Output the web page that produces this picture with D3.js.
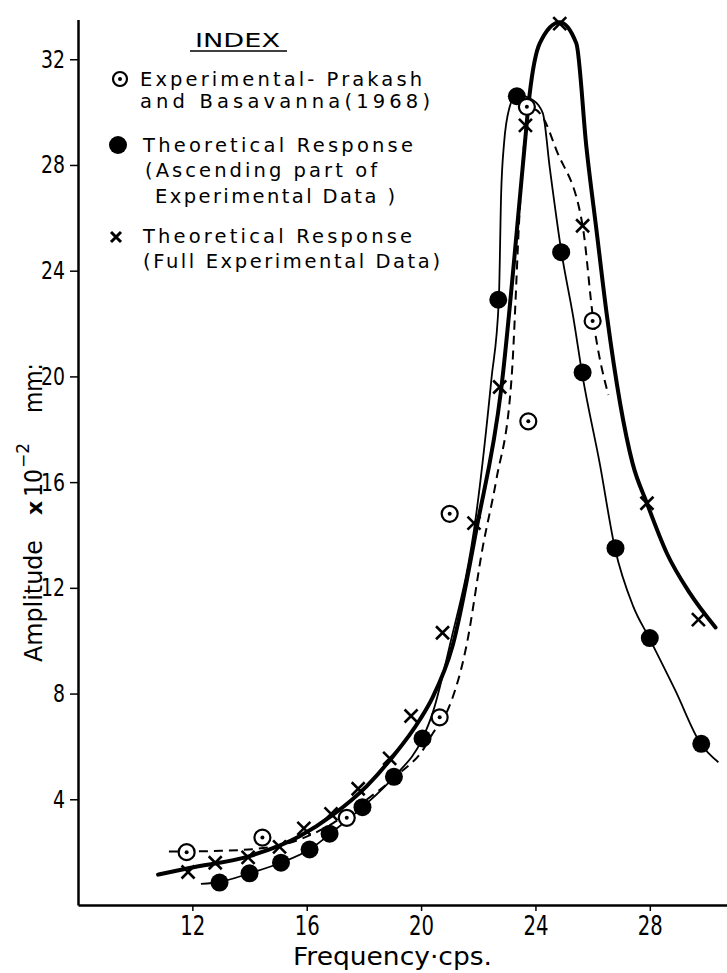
<!DOCTYPE html>
<html><head><meta charset="utf-8">
<script src="https://cdn.jsdelivr.net/npm/d3@7"></script>
<style>body{margin:0;background:#fff}svg{display:block}</style>
</head><body>
<svg id="c" width="727" height="973"></svg>
<script>
// ---- tick labels ----
const xTicks = [12, 16, 20, 24, 28];
const yTicks = [4, 8, 12, 16, 20, 24, 28, 32];

// ---- markers ----
// Experimental - Prakash and Basavanna (1968)  (circle with dot)
const expFreq = [11.8, 14.45, 17.4, 20.65, 21.0, 23.75, 23.7, 26.0];
const expAmp  = [2.0, 2.55, 3.3, 7.1, 14.8, 18.3, 30.2, 22.1];
// Theoretical response (ascending part of experimental data)  (filled dot)
const ascFreq = [12.95, 14.0, 15.1, 16.1, 16.8, 17.95, 19.05, 20.05, 22.7, 23.35, 24.9, 25.65, 26.8, 28.0, 29.8];
const ascAmp  = [0.85, 1.2, 1.6, 2.1, 2.7, 3.7, 4.85, 6.3, 22.9, 30.6, 24.7, 20.15, 13.5, 10.1, 6.1];
// Theoretical response (full experimental data)  (cross)
const fullFreq = [11.85, 12.8, 13.95, 15.05, 15.9, 16.85, 17.8, 18.9, 19.65, 20.75, 21.85, 22.75, 23.65, 24.85, 25.65, 27.9, 29.7];
const fullAmp  = [1.25, 1.6, 1.8, 2.2, 2.9, 3.45, 4.4, 5.55, 7.15, 10.3, 14.45, 19.6, 29.5, 33.35, 25.7, 15.2, 10.8];

// ---- curves ----
// dashed: experimental
const expCurveFreq = [11.18, 13.0, 14.8, 16.91, 18.08, 19.24, 20.06, 20.41, 20.88, 21.58, 22.16, 22.63, 23.16, 23.47, 23.65, 23.85, 24.26, 24.73, 25.65, 26.02, 26.55];
const expCurveAmp  = [2.02, 2.05, 2.2, 3.09, 3.97, 4.98, 5.86, 6.5, 7.25, 9.77, 13.56, 16.08, 19.86, 26.67, 29.3, 30.15, 29.8, 28.57, 25.7, 22.16, 19.3];
// thin solid: ascending-part fit
const ascCurveFreq = [12.3, 13.0, 14.0, 15.1, 16.1, 17.0, 18.0, 19.05, 20.05, 20.4, 21.0, 21.93, 22.46, 22.72, 22.8, 22.9, 23.1, 23.33, 23.92, 24.26, 24.5, 24.91, 25.32, 25.65, 26.25, 26.78, 27.42, 27.98, 28.9, 29.78, 30.4];
const ascCurveAmp  = [0.8, 0.88, 1.2, 1.6, 2.1, 2.85, 3.75, 4.85, 6.3, 7.25, 9.8, 14.8, 19.9, 22.9, 26.9, 28.8, 30.2, 30.65, 30.45, 29.95, 27.9, 24.7, 22.26, 20.0, 16.7, 13.5, 11.3, 10.1, 8.1, 6.1, 5.4];
// thick solid: full-data fit
const fullCurveFreq = [10.8, 11.9, 14.0, 15.75, 16.9, 18.1, 19.0, 19.95, 20.4, 21.1, 21.95, 22.8, 23.45, 23.62, 23.8, 24.15, 24.85, 25.43, 25.78, 26.15, 26.5, 27.4, 27.9, 28.6, 29.4, 30.3];
const fullCurveAmp  = [1.15, 1.4, 1.85, 2.6, 3.4, 4.5, 5.6, 7.0, 7.85, 9.8, 14.3, 19.5, 26.7, 28.7, 30.7, 32.6, 33.4, 32.6, 28.7, 25.4, 22.3, 16.7, 15.2, 13.3, 11.8, 10.5];

const legendLines = [
  ["Experimental- Prakash", 140, 86, 282],
  ["and Basavanna(1968)", 140, 108, 290],
  ["Theoretical Response", 143, 152, 270],
  ["(Ascending part of", 145, 177, 232],
  ["Experimental Data )", 155, 203, 240],
  ["Theoretical Response", 143, 243, 269],
  ["(Full Experimental Data)", 143, 268, 297]
];

const svg = d3.select("#c");
svg.append("rect").attr("width",727).attr("height",973).attr("fill","#fff");
const FONT = "'DejaVu Sans', 'Liberation Sans', sans-serif";
const NARROW = "'Liberation Sans Narrow', 'DejaVu Sans Condensed', 'Liberation Sans', sans-serif";

const x = d3.scaleLinear().domain([8, 30.7]).range([78, 727]);
const y = d3.scaleLinear().domain([0, 33.5]).range([905, 19.6]);

// axes
const gx = svg.append("g").attr("transform", "translate(0,905)")
  .call(d3.axisBottom(x).tickValues(xTicks).tickSize(6).tickSizeOuter(0).tickPadding(5).tickFormat(d3.format("d")));
gx.select(".domain").attr("stroke", "#000").attr("stroke-width", 2.5);
gx.selectAll(".tick line").attr("stroke", "#000").attr("stroke-width", 1.5);
gx.selectAll(".tick text").attr("font-family", NARROW).attr("font-size", 27).attr("fill", "#000")
  .attr("textLength", 25).attr("lengthAdjust", "spacingAndGlyphs");

const gy = svg.append("g").attr("transform", "translate(78,0)")
  .call(d3.axisLeft(y).tickValues(yTicks).tickSize(8).tickSizeOuter(0).tickPadding(5).tickFormat(d3.format("d")));
gy.select(".domain").attr("stroke", "#000").attr("stroke-width", 2.5);
gy.selectAll(".tick line").attr("stroke", "#000").attr("stroke-width", 1.5);
gy.selectAll(".tick text").attr("font-family", NARROW).attr("font-size", 25).attr("fill", "#000")
  .attr("textLength", d => String(d).length * 12).attr("lengthAdjust", "spacingAndGlyphs");

// axis titles
svg.append("text").attr("x", 293).attr("y", 965).attr("font-family", FONT).attr("font-size", 24)
  .attr("textLength", 199).attr("lengthAdjust", "spacingAndGlyphs").text("Frequency\u00b7cps.");

const yt = svg.append("g").attr("transform", "translate(42,0) rotate(-90)");
yt.append("text").attr("x", -662).attr("y", 0).attr("font-family", FONT).attr("font-size", 25)
  .attr("textLength", 122).attr("lengthAdjust", "spacingAndGlyphs").text("Amplitude");
yt.append("text").attr("x", -515).attr("y", 0).attr("font-family", FONT).attr("font-size", 22)
  .attr("font-weight", "bold").text("x");
yt.append("text").attr("x", -497).attr("y", 0).attr("font-family", FONT).attr("font-size", 25)
  .attr("textLength", 28).attr("lengthAdjust", "spacingAndGlyphs").text("10");
yt.append("text").attr("x", -468).attr("y", -13).attr("font-family", FONT).attr("font-size", 17)
  .text("\u22122");
yt.append("text").attr("x", -413).attr("y", 0).attr("font-family", FONT).attr("font-size", 25)
  .attr("textLength", 50).attr("lengthAdjust", "spacingAndGlyphs").text("mm:");

// curves
const line = d3.line().x(d => x(d[0])).y(d => y(d[1])).curve(d3.curveMonotoneX);
const zip = (a, b) => a.map((v, i) => [v, b[i]]);
svg.append("path").attr("d", line(zip(expCurveFreq, expCurveAmp))).attr("fill", "none")
  .attr("stroke", "#000").attr("stroke-width", 2).attr("stroke-dasharray", "9,6");
svg.append("path").attr("d", line(zip(ascCurveFreq, ascCurveAmp))).attr("fill", "none")
  .attr("stroke", "#000").attr("stroke-width", 1.8);
svg.append("path").attr("d", line(zip(fullCurveFreq, fullCurveAmp))).attr("fill", "none")
  .attr("stroke", "#000").attr("stroke-width", 4).attr("stroke-linecap", "round");

// marker helpers
function odot(g, cx, cy, r) {
  g.append("circle").attr("cx", cx).attr("cy", cy).attr("r", r).attr("fill", "#fff").attr("stroke", "#000").attr("stroke-width", 2.2);
  g.append("circle").attr("cx", cx).attr("cy", cy).attr("r", 2).attr("fill", "#000");
}
function cross(g, cx, cy, s, w) {
  g.append("path").attr("d", `M${cx - s},${cy - s}L${cx + s},${cy + s}M${cx - s},${cy + s}L${cx + s},${cy - s}`)
    .attr("stroke", "#000").attr("stroke-width", w).attr("fill", "none");
}
const mk = svg.append("g");
ascFreq.forEach((f, i) => mk.append("circle").attr("cx", x(f)).attr("cy", y(ascAmp[i])).attr("r", 9).attr("fill", "#000"));
expFreq.forEach((f, i) => odot(mk, x(f), y(expAmp[i]), 8));
fullFreq.forEach((f, i) => cross(mk, x(f), y(fullAmp[i]), 6.5, 2.6));

// legend
const lg = svg.append("g");
lg.append("text").attr("x", 195).attr("y", 47).attr("font-family", FONT).attr("font-size", 20)
  .attr("textLength", 85).attr("lengthAdjust", "spacingAndGlyphs").text("INDEX");
lg.append("line").attr("x1", 190).attr("x2", 287).attr("y1", 51).attr("y2", 51).attr("stroke", "#000").attr("stroke-width", 1.6);
legendLines.forEach(([t, lx, ly, w]) => {
  lg.append("text").attr("x", lx).attr("y", ly).attr("font-family", FONT).attr("font-size", 19.5)
    .attr("textLength", w).attr("lengthAdjust", "spacing").text(t);
});
odot(lg, 120, 79, 7);
lg.append("circle").attr("cx", 118).attr("cy", 145).attr("r", 9).attr("fill", "#000");
cross(lg, 116, 237, 5, 3);
</script>
</body></html>
